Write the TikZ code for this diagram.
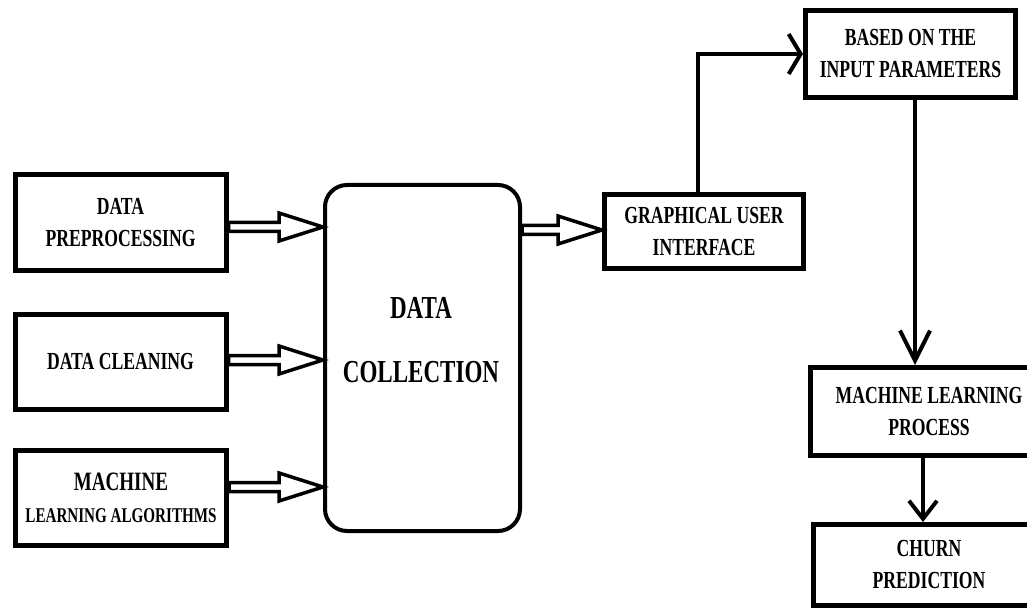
\documentclass[tikz,border=0pt]{standalone}
\usepackage{fontspec}
\setmainfont{Liberation Serif}[FakeStretch=0.72]
\usetikzlibrary{arrows.meta,calc}

\tikzset{
  box/.style={draw, rectangle, line width=5pt, align=center, inner sep=0pt,
    font=\bfseries\fontsize{24.5}{32}\selectfont},
  roundbox/.style={draw, rectangle, rounded corners=22pt, line width=4pt},
  bigtext/.style={align=center, inner sep=0pt,
    font=\bfseries\fontsize{32}{64}\selectfont},
  conn/.style={line width=4pt},
  hollow/.style={draw, line width=3.5pt, fill=white, line join=miter},
}

% block arrow with a hollow shaft and head: #1 start point, #2 target node
\newcommand\hollowarrow[2]{%
  \draw[hollow] let \p1=#1, \p2=(#2.west) in
    (\x1,\y1+4.5pt) -- (\x2-44pt,\y1+4.5pt) -- (\x2-44pt,\y1+14pt) -- (\x2,\y1)
    -- (\x2-44pt,\y1-14pt) -- (\x2-44pt,\y1-4.5pt) -- (\x1,\y1-4.5pt) -- cycle;
}

\begin{document}
\begin{tikzpicture}[x=1pt,y=-1pt]
  \useasboundingbox (0,0) rectangle (1027,612);
  \clip (0,0) rectangle (1027,612);

  % inputs on the left
  \node[box, minimum width=211pt, minimum height=95pt] (b1) at (120.5,222.5)
    {DATA\\PREPROCESSING};
  \node[box, minimum width=211pt, minimum height=95pt] (b2) at (120.5,362)
    {DATA CLEANING};
  \node[box, minimum width=211pt, minimum height=95pt] (b3) at (121,498)
    {\fontsize{26.5}{37}\selectfont MACHINE\\\fontsize{21}{37}\selectfont LEARNING ALGORITHMS};

  % central collection block
  \node[roundbox, minimum width=195pt, minimum height=346pt] (dc) at (422.5,358) {};
  \node[bigtext] (dctext) at (421,340) {DATA\\COLLECTION};

  % interface and processing chain
  \node[box, minimum width=199pt, minimum height=74pt] (gui) at (704,231.5)
    {GRAPHICAL USER\\INTERFACE};
  \node[box, minimum width=210pt, minimum height=87pt] (based) at (910.5,54)
    {BASED ON THE\\INPUT PARAMETERS};
  \node[box, minimum width=237pt, minimum height=88pt] (ml) at (929,411.5)
    {MACHINE LEARNING\\PROCESS};
  \node[box, minimum width=232pt, minimum height=81pt] (churn) at (929,565)
    {CHURN\\PREDICTION};

  % block arrows into and out of the collection block
  \hollowarrow{([yshift=-4.5pt]b1.east)}{dc}
  \hollowarrow{([yshift=2pt]b2.east)}{dc}
  \hollowarrow{([yshift=11pt]b3.east)}{dc}
  \hollowarrow{($(dc.east |- gui.west)+(0,-1.5)$)}{gui}

  % plain connectors
  \draw[conn, -{Straight Barb[length=12pt,width=40pt]}]
    ([xshift=-6pt]gui.north) |- (based.west);
  \draw[conn, -{Straight Barb[length=30pt,width=30pt]}]
    ([xshift=4.5pt]based.south) -- ([xshift=4.5pt]based.south |- ml.north);
  \draw[conn, -{Straight Barb[length=18pt,width=28pt]}]
    ([xshift=-6pt]ml.south) -- ([xshift=-6pt]ml.south |- churn.north);
\end{tikzpicture}
\end{document}
